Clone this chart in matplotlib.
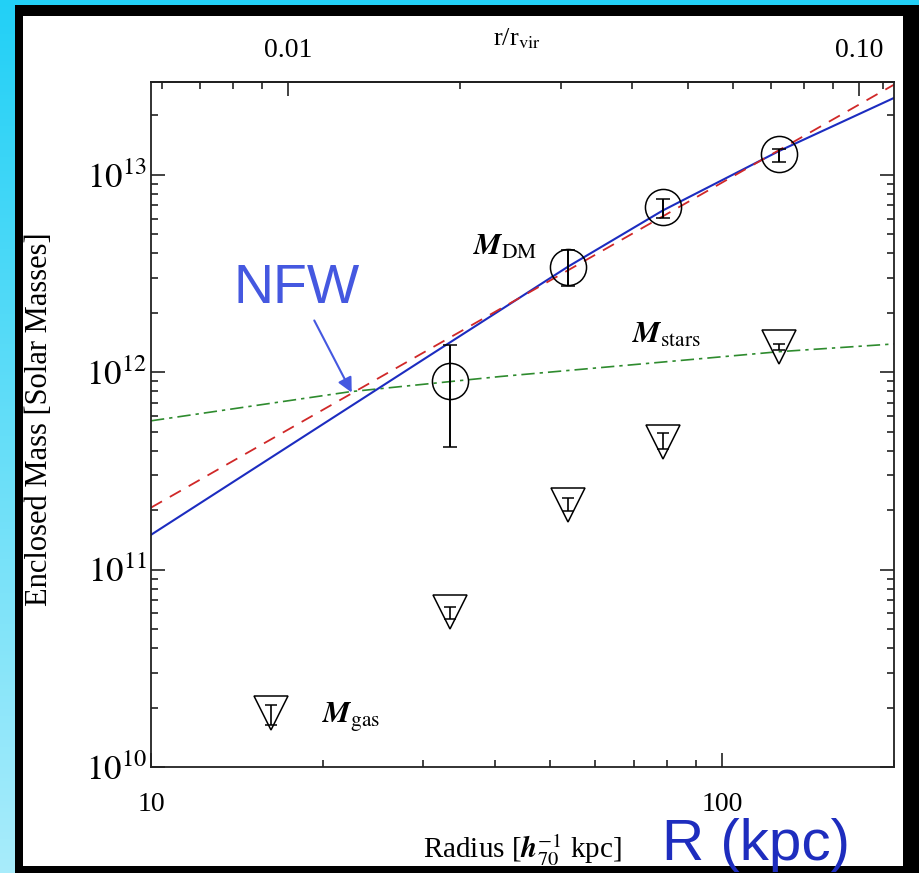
import matplotlib.pyplot as plt
import numpy as np
from matplotlib.patches import Rectangle
from matplotlib.colors import LinearSegmentedColormap
from matplotlib.ticker import FixedLocator, NullFormatter

plt.rcParams['font.family'] = ['Liberation Serif', 'DejaVu Serif']
plt.rcParams['mathtext.fontset'] = 'stix'

# dark matter mass (circles) with error bars
r_dm = [33.4, 53.7, 78.8, 125.9]
m_dm = [9.06e11, 3.42e12, 6.88e12, 1.28e13]
m_dm_lo = [4.2e11, 2.74e12, 6.05e12, 1.16e13]
m_dm_hi = [1.38e12, 4.17e12, 7.56e12, 1.35e13]

# gas mass (triangles)
r_gas = [16.2, 33.4, 53.7, 78.8, 125.9]
m_gas = [1.87e10, 6.1e10, 2.13e11, 4.45e11, 1.34e12]
m_gas_lo = [1.64e10, 5.6e10, 1.98e11, 4.1e11, 1.29e12]
m_gas_hi = [2.07e10, 6.5e10, 2.3e11, 4.9e11, 1.39e12]

# NFW profile (blue solid)
r_nfw = [10, 30, 53.7, 78.8, 125.9, 200]
m_nfw = [1.50e11, 1.16e12, 3.42e12, 6.6e12, 1.32e13, 2.45e13]

# power-law fit (red dashed)
r_fit = [10, 45, 200]
m_fit = [2.06e11, 2.45e12, 2.86e13]

# stellar mass (green dash-dot)
r_stars = [10, 22.3, 40.8, 125.9, 200]
m_stars = [5.67e11, 7.96e11, 9.5e11, 1.27e12, 1.39e12]

r_vir = 1740.0
W, H = 919, 873

fig = plt.figure(figsize=(W / 100, H / 100), dpi=100)

# background: cyan gradient, black frame, white panel
bg = fig.add_axes([0, 0, 1, 1])
bg.axis('off')
cmap = LinearSegmentedColormap.from_list('bgc', ['#22d0f6', '#a8ecfb'])
grad = np.linspace(0, 1, 256).reshape(-1, 1)
bg.imshow(grad, aspect='auto', extent=[0, 1, 0, 1], cmap=cmap, origin='upper')
bg.add_patch(Rectangle((15 / W, 0), 1, 1 - 5 / H, color='black', lw=0))
bg.add_patch(Rectangle((23 / W, 1 - 866 / H), (903 - 23) / W, (866 - 16) / H,
                       color='white', lw=0))
bg.set_xlim(0, 1)
bg.set_ylim(0, 1)

ax = fig.add_axes([151 / W, 1 - 767 / H, (894 - 151) / W, (767 - 82) / H])
ax.set_facecolor('none')
ax.set_xscale('log')
ax.set_yscale('log')

ax.plot(r_stars, m_stars, color='#2e8b2e', ls=(0, (8, 3, 2, 3)), lw=1.2)
ax.plot(r_nfw, m_nfw, color='#1c2cc0', lw=1.5)
ax.plot(r_fit, m_fit, color='#d02828', ls=(0, (7, 5)), lw=1.3)

m_dm_a = np.array(m_dm)
ax.errorbar(r_dm, m_dm, yerr=[m_dm_a - np.array(m_dm_lo), np.array(m_dm_hi) - m_dm_a],
            fmt='o', mfc='none', mec='k', ms=26, mew=1.1, ecolor='k',
            elinewidth=1.4, capsize=5, capthick=1.4)
m_gas_a = np.array(m_gas)
ax.errorbar(r_gas, m_gas, yerr=[m_gas_a - np.array(m_gas_lo), np.array(m_gas_hi) - m_gas_a],
            fmt='v', mfc='none', mec='k', ms=25, mew=1.1, ecolor='k',
            elinewidth=1.2, capsize=4, capthick=1.2)

ax.set_xlim(10, 200)
ax.set_ylim(1e10, 2.95e13)

ax.set_xticks([10, 100])
ax.set_xticklabels(['10', '100'])
ax.set_yticks([1e10, 1e11, 1e12, 1e13])
ax.set_yticklabels([r'$10^{10}$', r'$10^{11}$', r'$10^{12}$', r'$10^{13}$'])
ax.tick_params(which='both', direction='in', top=False, right=True, width=1.2, color='#222222')
ax.tick_params(which='major', length=10)
ax.tick_params(which='minor', length=5)
ax.tick_params(axis='x', labelsize=20, pad=18)
ax.tick_params(axis='y', labelsize=25, pad=3)
for sp in ax.spines.values():
    sp.set_linewidth(1.3)
    sp.set_color('#222222')

sec = ax.secondary_xaxis('top', functions=(lambda r: r / r_vir, lambda f: f * r_vir))
sec.set_xticks([0.01, 0.1])
sec.set_xticklabels(['0.01', '0.10'])
sec.xaxis.set_minor_locator(FixedLocator([0.006, 0.007, 0.008, 0.009, 0.02, 0.03, 0.04,
                                          0.05, 0.06, 0.07, 0.08, 0.09, 0.11]))
sec.xaxis.set_minor_formatter(NullFormatter())
sec.tick_params(which='both', direction='in', width=1.2, color='#222222', labelsize=20, pad=14)
sec.tick_params(which='major', length=10)
sec.tick_params(which='minor', length=5)
sec.spines['top'].set_linewidth(1.3)

# axis titles
fig.text(517 / W, 1 - 39 / H, r'r/r$_{\rm vir}$', ha='center', va='center', fontsize=19)
fig.text(522 / W, 1 - 858 / H, r'Radius [$\mathbfit{h}_{70}^{-1}$ kpc]', ha='center',
         va='baseline', fontsize=21)
fig.text(40 / W, 1 - 419 / H, 'Enclosed Mass [Solar Masses]', rotation=90,
         ha='center', va='center', fontsize=22)

# component labels
fig.text(473 / W, 1 - 255 / H, r'$\mathbfit{M}_{\rm DM}$', fontsize=22, va='baseline')
fig.text(632 / W, 1 - 343 / H, r'$\mathbfit{M}_{\rm stars}$', fontsize=22, va='baseline')
fig.text(322 / W, 1 - 723 / H, r'$\mathbfit{M}_{\rm gas}$', fontsize=22, va='baseline')

# slide annotations
fig.text(297 / W, 1 - 289 / H, 'NFW', family='Liberation Sans', color='#4558e0',
         fontsize=40, ha='center', va='center')
ax.annotate('', xy=(353 / W, 1 - 395 / H), xytext=(313 / W, 1 - 318 / H),
            xycoords='figure fraction', textcoords='figure fraction',
            arrowprops=dict(arrowstyle='-|>', color='#4558e0', lw=1.5, mutation_scale=22),
            annotation_clip=False)
fig.text(662 / W, 1 - 860 / H, 'R (kpc)', family='Liberation Sans', color='#1e2dbe',
         fontsize=42, va='baseline')

fig.savefig('out.png', dpi=100)
